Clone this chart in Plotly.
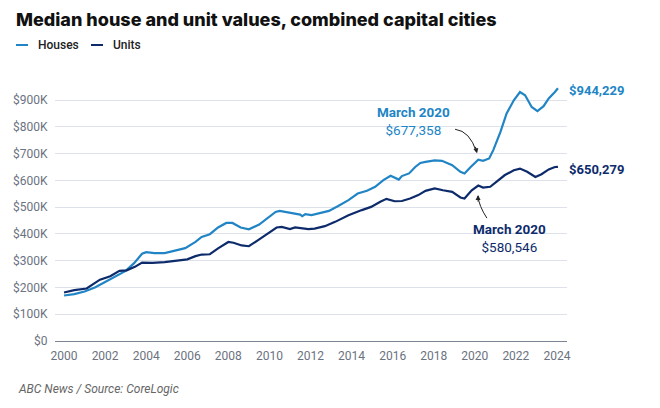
import plotly.graph_objects as go

# ---- data (decimal year, value in $) ----
house_years = [2000.0, 2000.5, 2001.0, 2001.5, 2002.0, 2002.5, 2003.0, 2003.4, 2003.8, 2004.0,
               2004.4, 2004.9, 2005.4, 2005.9, 2006.4, 2006.7, 2007.1, 2007.5, 2007.9, 2008.2,
               2008.6, 2009.0, 2009.5, 2009.9, 2010.3, 2010.5, 2011.0, 2011.5, 2011.6, 2011.75,
               2012.05, 2012.5, 2012.9, 2013.35, 2013.85, 2014.3, 2014.75, 2015.15, 2015.55, 2015.9,
               2016.1, 2016.3, 2016.45, 2016.8, 2017.1, 2017.35, 2017.6, 2018.05, 2018.4, 2018.9,
               2019.3, 2019.5, 2019.8, 2020.17, 2020.4, 2020.7, 2020.9, 2021.25, 2021.55, 2021.9,
               2022.2, 2022.45, 2022.77, 2023.05, 2023.35, 2023.6, 2023.9, 2024.05]
house_values = [170000, 175000, 185000, 200000, 220000, 240000, 262000, 290000, 326000, 332000,
                328000, 328000, 337000, 347000, 370000, 389000, 399000, 424000, 441000, 441000,
                424000, 417000, 435000, 458000, 482000, 486000, 479000, 472000, 466000, 474000,
                470000, 479000, 486000, 504000, 526000, 551000, 561000, 576000, 601000, 617000,
                611000, 603000, 616000, 626000, 650000, 665000, 669000, 675000, 673000, 657000,
                632000, 626000, 650000, 677358, 673000, 682000, 713000, 781000, 850000, 899000,
                930000, 918000, 874000, 859000, 877000, 906000, 930000, 944229]

unit_years = [2000.0, 2000.5, 2001.1, 2001.4, 2001.75, 2002.25, 2002.7, 2003.05, 2003.45, 2003.8,
              2004.3, 2004.9, 2005.4, 2006.0, 2006.4, 2006.7, 2007.1, 2007.5, 2008.0, 2008.25,
              2008.65, 2009.0, 2009.45, 2009.95, 2010.35, 2010.6, 2011.0, 2011.25, 2011.65, 2011.9,
              2012.2, 2012.7, 2013.2, 2013.85, 2014.5, 2014.95, 2015.4, 2015.7, 2016.1, 2016.45,
              2016.85, 2017.25, 2017.6, 2018.05, 2018.45, 2018.9, 2019.3, 2019.5, 2019.85, 2020.17,
              2020.4, 2020.75, 2021.05, 2021.45, 2021.9, 2022.2, 2022.55, 2022.95, 2023.25, 2023.6,
              2023.9, 2024.05]
unit_values = [181000, 190000, 196000, 212000, 229000, 242000, 262000, 264000, 277000, 293000,
               292000, 295000, 300000, 305000, 317000, 323000, 324000, 346000, 370000, 367000,
               357000, 354000, 377000, 402000, 424000, 426000, 418000, 424000, 420000, 418000,
               420000, 429000, 445000, 470000, 489000, 501000, 520000, 531000, 522000, 523000,
               532000, 545000, 561000, 570000, 563000, 557000, 536000, 532000, 563000, 580546,
               573000, 576000, 594000, 619000, 638000, 644000, 632000, 613000, 623000, 641000,
               650000, 650279]

x_ticks = [2000, 2002, 2004, 2006, 2008, 2010, 2012, 2014, 2016, 2018, 2020, 2022, 2024]
y_ticks = [0, 100000, 200000, 300000, 400000, 500000, 600000, 700000, 800000, 900000]
y_tick_labels = ["$0", "$100K", "$200K", "$300K", "$400K", "$500K", "$600K", "$700K", "$800K", "$900K"]

HOUSE = "#2185c5"
UNIT = "#0d2b6b"
TFONT = "Inter"
FONT = "Roboto"

fig = go.Figure()
fig.add_trace(go.Scatter(x=house_years, y=house_values, mode="lines", name="Houses",
                         line=dict(color=HOUSE, width=2.2), showlegend=False))
fig.add_trace(go.Scatter(x=unit_years, y=unit_values, mode="lines", name="Units",
                         line=dict(color=UNIT, width=2.2), showlegend=False))

W, H = 660, 408
L, R, T, B = 55, 93, 84, 67
pw, ph = W - L - R, H - T - B

def px(x):
    return (x - L) / pw

def py(y):
    return (H - B - y) / ph

fig.update_layout(
    width=W, height=H,
    margin=dict(l=L, r=R, t=T, b=B, autoexpand=False),
    paper_bgcolor="white", plot_bgcolor="white",
    font=dict(family=FONT, color="#6b7280", size=12),
    title=dict(text="Median house and unit values, combined capital cities",
               font=dict(family=TFONT, size=18, color="#111111", weight=800),
               x=16 / W, xanchor="left", xref="container",
               y=1 - 20 / H, yanchor="middle", yref="container"),
    xaxis=dict(range=[1999.56, 2024.49], tickvals=x_ticks, ticktext=[str(t) for t in x_ticks],
               showgrid=False, zeroline=False, showline=False, automargin=False,
               ticks="outside", ticklen=4, tickcolor="rgba(0,0,0,0)",
               tickfont=dict(family=FONT, size=12, color="#6b7280")),
    yaxis=dict(range=[0, 960000], tickvals=y_ticks, ticktext=y_tick_labels,
               showgrid=True, gridcolor="#dde2ea", gridwidth=1, automargin=False,
               zeroline=True, zerolinecolor="#7c8494", zerolinewidth=1.2,
               ticks="outside", ticklen=4, tickcolor="rgba(0,0,0,0)",
               tickfont=dict(family=FONT, size=12, color="#6b7280")),
    showlegend=False,
)

# custom legend
shapes = []
annotations = []
for x0, x1, col, label, tx in [(16, 28, HOUSE, "Houses", 36), (91, 103, UNIT, "Units", 111)]:
    shapes.append(dict(type="line", xref="paper", yref="paper", x0=px(x0), x1=px(x1),
                       y0=py(45), y1=py(45), line=dict(color=col, width=2)))
    annotations.append(dict(text=label, xref="paper", yref="paper", x=px(tx), y=py(45),
                            xanchor="left", yanchor="middle", showarrow=False,
                            font=dict(family=FONT, size=12, color="#222222", weight=500)))

# end labels
annotations.append(dict(text="<b>$944,229</b>", xref="paper", yref="y", x=1, y=house_values[-1],
                        xanchor="left", yanchor="middle", xshift=0, yshift=-2, showarrow=False,
                        font=dict(family=FONT, size=13, color=HOUSE)))
annotations.append(dict(text="<b>$650,279</b>", xref="paper", yref="y", x=1, y=unit_values[-1],
                        xanchor="left", yanchor="middle", xshift=0, yshift=-3, showarrow=False,
                        font=dict(family=FONT, size=13, color=UNIT)))

# March 2020 callouts
annotations.append(dict(text="<b>March 2020</b><br>$677,358", x=2017.0, y=822000,
                        xanchor="center", yanchor="middle", showarrow=False, align="center",
                        font=dict(family=FONT, size=13.5, color=HOUSE)))
annotations.append(dict(text="<b>March 2020</b><br>$580,546", x=2021.71, y=385000,
                        xanchor="center", yanchor="middle", showarrow=False, align="center",
                        font=dict(family=FONT, size=13.5, color=UNIT)))

# curved arrows
shapes.append(dict(type="path", xref="x", yref="y",
                   path="M 2019.04,791000 Q 2019.77,784000 2020.08,706000",
                   line=dict(color="#222222", width=1)))
annotations.append(dict(text="", x=2020.11, y=701000, ax=-2, ay=-8, showarrow=True,
                        arrowhead=2, arrowsize=1, arrowwidth=1, arrowcolor="#222222"))
shapes.append(dict(type="path", xref="x", yref="y",
                   path="M 2020.59,459000 Q 2020.2,505000 2020.16,540000",
                   line=dict(color="#222222", width=1)))
annotations.append(dict(text="", x=2020.16, y=545000, ax=0, ay=8, showarrow=True,
                        arrowhead=2, arrowsize=1, arrowwidth=1, arrowcolor="#222222"))

# source
annotations.append(dict(text="<i>ABC News / Source: CoreLogic</i>", xref="paper", yref="paper",
                        x=px(16), y=py(389), xanchor="left", yanchor="middle", showarrow=False,
                        font=dict(family=FONT, size=12, color="#666666")))

fig.update_layout(shapes=shapes, annotations=annotations)
fig.write_html("out.html", config={"displayModeBar": False},
               post_script="document.body.style.margin='0';")
